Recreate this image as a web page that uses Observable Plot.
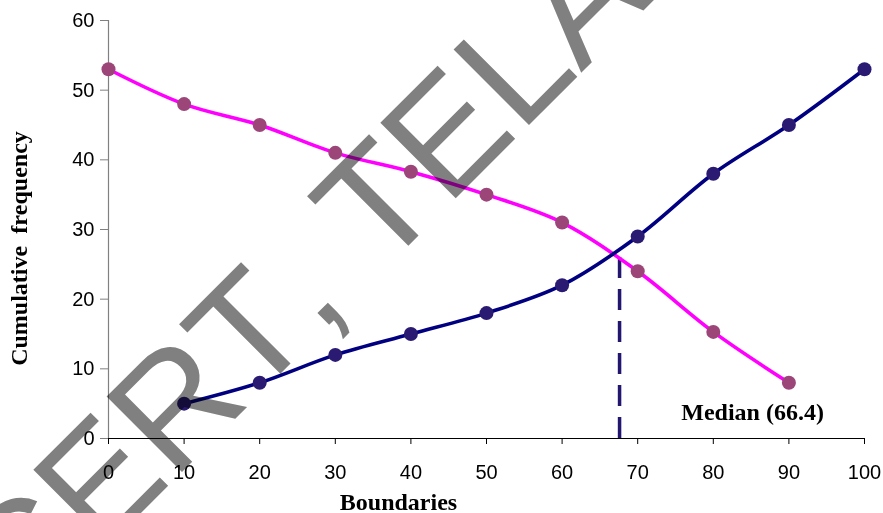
<!DOCTYPE html>
<html>
<head>
<meta charset="utf-8">
<script src="https://cdn.jsdelivr.net/npm/d3@7"></script>
<script src="https://cdn.jsdelivr.net/npm/@observablehq/plot@0.6"></script>
<style>
  html, body { margin: 0; padding: 0; background: #fff; overflow: hidden; }
  #chart svg { overflow: visible; }
  #chart svg text { font-kerning: none; }
</style>
</head>
<body>
<div id="chart"></div>
<script>
// Data
const lessBoundaries = [10, 20, 30, 40, 50, 60, 70, 80, 90, 100];
const lessThanCF     = [5, 8, 12, 15, 18, 22, 29, 38, 45, 53];
const moreBoundaries = [0, 10, 20, 30, 40, 50, 60, 70, 80, 90];
const moreThanCF     = [53, 48, 45, 41, 38.3, 35, 31, 24, 15.3, 8];
const xTicks = [0, 10, 20, 30, 40, 50, 60, 70, 80, 90, 100];
const yTicks = [0, 10, 20, 30, 40, 50, 60];
const medianX = [67.6];
const medianY = [26.5];
const medianLabel = ["Median (66.4)"];
const xTitle = ["Boundaries"];
const yTitle = ["Cumulative  frequency"];
const watermark = ["NCERT, TELANGANA"];

const less = lessBoundaries.map((b, i) => ({x: b, y: lessThanCF[i]}));
const more = moreBoundaries.map((b, i) => ({x: b, y: moreThanCF[i]}));
const med = medianX.map((m, i) => ({x: m, y: medianY[i]}));

const serif = "'Liberation Serif', 'Times New Roman', serif";

const chart = Plot.plot({
  width: 883,
  height: 513,
  marginLeft: 108,
  marginRight: 19,
  marginTop: 20,
  marginBottom: 75,
  style: {fontFamily: "'Liberation Sans', Arial, sans-serif", fontSize: "20px", background: "#fff", color: "#000"},
  x: {domain: [0, 100]},
  y: {domain: [0, 60]},
  marks: [
    Plot.axisY({ticks: yTicks, tickSize: 8, tickPadding: 6, label: null, stroke: "#808080", fill: "#000", fontSize: 20}),
    Plot.axisX({ticks: xTicks, tickSize: 6, tickPadding: 20, label: null, stroke: "#000", fill: "#000", fontSize: 20}),
    Plot.ruleX([0], {stroke: "#808080", strokeWidth: 1.2}),
    Plot.ruleY([0], {stroke: "#000", strokeWidth: 1.2}),
    Plot.ruleX(med, {x: "x", y1: 0, y2: "y", stroke: "#231670", strokeWidth: 3.5, strokeDasharray: "21,11"}),
    Plot.line(more, {x: "x", y: "y", stroke: "#ff00ff", strokeWidth: 3.6, curve: "catmull-rom"}),
    Plot.line(less, {x: "x", y: "y", stroke: "#000080", strokeWidth: 3.6, curve: "catmull-rom"}),
    Plot.dot(more, {x: "x", y: "y", r: 7, fill: "#9b4579", stroke: "none"}),
    Plot.dot(less, {x: "x", y: "y", r: 7, fill: "#2a1a72", stroke: "none"}),
    Plot.text(medianLabel, {x: 85.2, y: 3.8, text: d => d, fontFamily: serif, fontWeight: "bold", fontSize: 24, fill: "#000", textAnchor: "middle"}),
    Plot.text(xTitle, {frameAnchor: "bottom", text: d => d, dx: -88, dy: 71, fontFamily: serif, fontWeight: "bold", fontSize: 24, fill: "#000"}),
    Plot.text(yTitle, {frameAnchor: "left", text: d => d, rotate: -90, textAnchor: "middle", lineAnchor: "middle", dx: -89, dy: 19, fontFamily: serif, fontWeight: "bold", fontSize: 24, fill: "#000"}),
    Plot.text(watermark, {frameAnchor: "top-left", text: d => d, rotate: -45, dx: -167, dy: 692, textAnchor: "start", lineAnchor: "bottom", fontFamily: "'Liberation Sans', Arial, sans-serif", fontSize: 155, fill: "#808080", mixBlendMode: "multiply"})
  ]
});
document.getElementById("chart").appendChild(chart);
</script>
</body>
</html>
